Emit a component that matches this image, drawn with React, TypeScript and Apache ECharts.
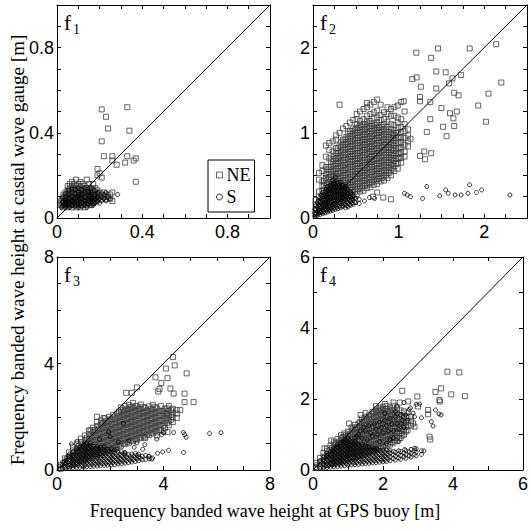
import React, { useEffect, useRef } from "react";
import * as echarts from "echarts";

// ---------- data ----------
const axisMax = [1, 2.5, 8, 6];
const tickSteps = [0.1, 0.25, 1, 1];
const tickLabels = [
  [0, 0.4, 0.8],
  [0, 1, 2],
  [0, 4, 8],
  [0, 2, 4, 6],
];
const panelIds = ["1", "2", "3", "4"];
const xTitle = "Frequency banded wave height at GPS buoy [m]";
const yTitle = "Frequency banded wave height at castal wave gauge [m]";

type Cols = [number, number[]][];

// Panel f1
const ne1: number[][] = [
  [0.02,0.06],[0.02,0.08],[0.03,0.05],[0.03,0.07],[0.03,0.09],[0.03,0.11],[0.04,0.06],[0.04,0.08],[0.04,0.10],[0.04,0.12],
  [0.05,0.05],[0.05,0.07],[0.05,0.09],[0.05,0.11],[0.05,0.13],[0.05,0.15],[0.06,0.06],[0.06,0.08],[0.06,0.10],[0.06,0.12],
  [0.06,0.14],[0.06,0.16],[0.07,0.05],[0.07,0.07],[0.07,0.09],[0.07,0.11],[0.07,0.13],[0.07,0.15],[0.07,0.17],[0.08,0.06],
  [0.08,0.08],[0.08,0.10],[0.08,0.12],[0.08,0.14],[0.08,0.16],[0.09,0.05],[0.09,0.07],[0.09,0.09],[0.09,0.11],[0.09,0.13],
  [0.09,0.15],[0.09,0.18],[0.10,0.06],[0.10,0.08],[0.10,0.10],[0.10,0.12],[0.10,0.14],[0.10,0.16],[0.11,0.05],[0.11,0.07],
  [0.11,0.09],[0.11,0.11],[0.11,0.13],[0.11,0.15],[0.11,0.17],[0.12,0.06],[0.12,0.08],[0.12,0.10],[0.12,0.12],[0.12,0.14],
  [0.12,0.16],[0.13,0.05],[0.13,0.07],[0.13,0.09],[0.13,0.11],[0.13,0.13],[0.13,0.15],[0.14,0.06],[0.14,0.08],[0.14,0.10],
  [0.14,0.12],[0.14,0.14],[0.14,0.18],[0.15,0.07],[0.15,0.09],[0.15,0.11],[0.15,0.13],[0.15,0.16],[0.16,0.06],[0.16,0.08],
  [0.16,0.10],[0.16,0.12],[0.16,0.14],[0.17,0.07],[0.17,0.09],[0.17,0.11],[0.17,0.13],[0.17,0.16],[0.18,0.08],[0.18,0.10],
  [0.18,0.12],[0.18,0.14],[0.19,0.09],[0.19,0.11],[0.19,0.13],[0.20,0.10],[0.20,0.12],[0.21,0.09],[0.21,0.11],[0.22,0.10],
  [0.22,0.12],[0.23,0.09],[0.23,0.11],[0.24,0.10],[0.25,0.09],[0.25,0.11],[0.26,0.08],[0.26,0.12],
  [0.025,0.07],[0.035,0.1],[0.045,0.065],[0.055,0.085],[0.065,0.11],[0.075,0.075],[0.085,0.095],[0.095,0.065],
  [0.105,0.115],[0.115,0.085],[0.125,0.07],[0.135,0.1],[0.145,0.09],[0.155,0.12],[0.165,0.1],[0.175,0.085],
  [0.025,0.09],[0.035,0.06],[0.045,0.11],[0.055,0.125],[0.065,0.07],[0.075,0.14],[0.085,0.13],[0.095,0.12],
  [0.105,0.135],[0.115,0.12],[0.125,0.13],[0.135,0.14],[0.145,0.125],[0.155,0.08],[0.165,0.13],[0.175,0.115],
  [0.19,0.23],[0.20,0.21],[0.19,0.20],[0.21,0.19],[0.21,0.51],[0.23,0.475],[0.24,0.42],[0.21,0.36],[0.22,0.29],
  [0.26,0.29],[0.26,0.27],[0.28,0.25],[0.32,0.26],[0.33,0.29],[0.33,0.52],[0.34,0.41],[0.36,0.27],[0.37,0.28],[0.37,0.17],
];
const s1: number[][] = [
  [0.02,0.05],[0.03,0.06],[0.04,0.05],[0.05,0.06],[0.06,0.05],[0.07,0.06],[0.08,0.07],[0.09,0.06],[0.10,0.07],[0.11,0.06],
  [0.12,0.07],[0.13,0.06],[0.14,0.07],[0.15,0.08],[0.16,0.07],[0.17,0.06],[0.18,0.07],[0.19,0.08],[0.20,0.07],[0.21,0.08],
  [0.22,0.09],[0.23,0.08],[0.24,0.10],[0.25,0.09],[0.285,0.11],[0.05,0.08],[0.08,0.09],[0.12,0.09],[0.15,0.10],[0.18,0.09],
  [0.21,0.10],[0.23,0.12],[0.10,0.05],[0.14,0.05],[0.04,0.09],[0.07,0.1],[0.1,0.11],[0.13,0.1],[0.16,0.11],[0.19,0.1],
  [0.03,0.08],[0.045,0.07],[0.06,0.09],[0.075,0.08],[0.09,0.1],[0.105,0.09],[0.12,0.11],[0.135,0.08],[0.15,0.12],
  [0.165,0.09],[0.18,0.11],[0.195,0.12],[0.2,0.09],[0.22,0.11],[0.17,0.08],[0.11,0.08],[0.06,0.07],[0.04,0.07],
];
const s1Core: Cols = [
  [0.025,[0.055,0.075,0.095]],
  [0.04,[0.06,0.08,0.1,0.115]],
  [0.055,[0.055,0.075,0.095,0.115,0.13]],
  [0.07,[0.06,0.08,0.1,0.12,0.135]],
  [0.085,[0.055,0.075,0.095,0.115,0.135]],
  [0.1,[0.06,0.08,0.1,0.12,0.14]],
  [0.115,[0.055,0.075,0.095,0.115,0.135]],
  [0.13,[0.06,0.08,0.1,0.12,0.14]],
  [0.145,[0.065,0.085,0.105,0.125]],
  [0.16,[0.06,0.08,0.1,0.12,0.14]],
  [0.175,[0.07,0.09,0.11,0.13]],
  [0.19,[0.075,0.095,0.115]],
];

// Panel f2
const ne2Cols: Cols = [
  [0.03,[0.04,0.1,0.16,0.21]],
  [0.07,[0.07,0.13,0.19,0.25,0.31,0.45,0.53]],
  [0.11,[0.08,0.14,0.2,0.26,0.32,0.38,0.43,0.55,0.62]],
  [0.15,[0.11,0.17,0.23,0.29,0.35,0.41,0.47,0.52,0.6,0.72,0.85]],
  [0.19,[0.12,0.18,0.24,0.3,0.36,0.42,0.48,0.54,0.6,0.7,0.8,0.88]],
  [0.23,[0.15,0.21,0.27,0.33,0.39,0.45,0.51,0.57,0.63,0.69,0.78,0.9]],
  [0.27,[0.16,0.22,0.28,0.34,0.4,0.46,0.52,0.58,0.64,0.7,0.76,0.82,0.92,0.97]],
  [0.31,[0.19,0.25,0.31,0.37,0.43,0.49,0.55,0.61,0.67,0.73,0.79,0.85,1.0,1.33]],
  [0.35,[0.2,0.26,0.32,0.38,0.44,0.5,0.56,0.62,0.68,0.74,0.8,0.86,0.92,1.05]],
  [0.39,[0.23,0.29,0.35,0.41,0.47,0.53,0.59,0.65,0.71,0.77,0.83,0.89,0.95,1.08]],
  [0.43,[0.24,0.3,0.36,0.42,0.48,0.54,0.6,0.66,0.72,0.78,0.84,0.9,0.96,1.02,1.12]],
  [0.47,[0.27,0.33,0.39,0.45,0.51,0.57,0.63,0.69,0.75,0.81,0.87,0.93,0.99,1.05,1.15]],
  [0.51,[0.28,0.34,0.4,0.46,0.52,0.58,0.64,0.7,0.76,0.82,0.88,0.94,1.0,1.06,1.1,1.16,1.22]],
  [0.55,[0.31,0.37,0.43,0.49,0.55,0.61,0.67,0.73,0.79,0.85,0.91,0.97,1.03,1.09,1.14,1.25]],
  [0.59,[0.32,0.38,0.44,0.5,0.56,0.62,0.68,0.74,0.8,0.86,0.92,0.98,1.04,1.1,1.16,1.28]],
  [0.63,[0.35,0.41,0.47,0.53,0.59,0.65,0.71,0.77,0.83,0.89,0.95,1.01,1.07,1.13,1.2,1.3,1.35]],
  [0.67,[0.36,0.42,0.48,0.54,0.6,0.66,0.72,0.78,0.84,0.9,0.96,1.02,1.08,1.14,1.22,1.33]],
  [0.71,[0.39,0.45,0.51,0.57,0.63,0.69,0.75,0.81,0.87,0.93,0.99,1.05,1.11,1.17,1.24,1.36]],
  [0.75,[0.4,0.46,0.52,0.58,0.64,0.7,0.76,0.82,0.88,0.94,1.0,1.06,1.12,1.18,1.26,1.39]],
  [0.79,[0.43,0.49,0.55,0.61,0.67,0.73,0.79,0.85,0.91,0.97,1.03,1.09,1.15,1.21,1.33]],
  [0.83,[0.44,0.5,0.56,0.62,0.68,0.74,0.8,0.86,0.92,0.98,1.04,1.1,1.16,1.24]],
  [0.87,[0.47,0.53,0.59,0.65,0.71,0.77,0.83,0.89,0.95,1.01,1.07,1.13,1.22,1.3]],
  [0.91,[0.5,0.56,0.62,0.68,0.74,0.8,0.86,0.92,0.98,1.04,1.1,1.2,1.28]],
  [0.95,[0.55,0.61,0.67,0.73,0.79,0.85,0.91,0.97,1.03,1.09,1.2,1.3]],
  [0.99,[0.58,0.64,0.7,0.76,0.82,0.88,0.94,1.0,1.06,1.12,1.18,1.32]],
  [1.03,[0.65,0.71,0.77,0.83,0.89,0.95,1.01,1.07,1.16,1.36]],
  [1.07,[0.72,0.78,0.86,0.94,1.02,1.1,1.25]],
  [1.11,[0.84,0.9,0.97,1.04]],
];
const ne2Core: Cols = [
  [0.13,[0.14,0.2,0.26,0.32,0.38,0.44]],
  [0.17,[0.15,0.21,0.27,0.33,0.39,0.45,0.51,0.57]],
  [0.21,[0.18,0.24,0.3,0.36,0.42,0.48,0.54,0.6,0.66]],
  [0.25,[0.19,0.25,0.31,0.37,0.43,0.49,0.55,0.61,0.67,0.73]],
  [0.29,[0.22,0.28,0.34,0.4,0.46,0.52,0.58,0.64,0.7,0.76,0.82]],
  [0.33,[0.23,0.29,0.35,0.41,0.47,0.53,0.59,0.65,0.71,0.77,0.83,0.89]],
  [0.37,[0.26,0.32,0.38,0.44,0.5,0.56,0.62,0.68,0.74,0.8,0.86,0.92]],
  [0.41,[0.27,0.33,0.39,0.45,0.51,0.57,0.63,0.69,0.75,0.81,0.87,0.93,0.99]],
  [0.45,[0.3,0.36,0.42,0.48,0.54,0.6,0.66,0.72,0.78,0.84,0.9,0.96,1.02]],
  [0.49,[0.31,0.37,0.43,0.49,0.55,0.61,0.67,0.73,0.79,0.85,0.91,0.97,1.03]],
  [0.53,[0.34,0.4,0.46,0.52,0.58,0.64,0.7,0.76,0.82,0.88,0.94,1.0,1.06]],
  [0.57,[0.35,0.41,0.47,0.53,0.59,0.65,0.71,0.77,0.83,0.89,0.95,1.01,1.07]],
  [0.61,[0.38,0.44,0.5,0.56,0.62,0.68,0.74,0.8,0.86,0.92,0.98,1.04,1.1]],
  [0.65,[0.39,0.45,0.51,0.57,0.63,0.69,0.75,0.81,0.87,0.93,0.99,1.05,1.11]],
  [0.69,[0.42,0.48,0.54,0.6,0.66,0.72,0.78,0.84,0.9,0.96,1.02,1.08]],
  [0.73,[0.43,0.49,0.55,0.61,0.67,0.73,0.79,0.85,0.91,0.97,1.03,1.09]],
  [0.77,[0.46,0.52,0.58,0.64,0.7,0.76,0.82,0.88,0.94,1.0,1.06]],
  [0.81,[0.47,0.53,0.59,0.65,0.71,0.77,0.83,0.89,0.95,1.01,1.07]],
  [0.85,[0.5,0.56,0.62,0.68,0.74,0.8,0.86,0.92,0.98,1.04]],
  [0.89,[0.53,0.59,0.65,0.71,0.77,0.83,0.89,0.95,1.01]],
  [0.93,[0.58,0.64,0.7,0.76,0.82,0.88,0.94,1.0]],
  [0.97,[0.64,0.7,0.76,0.82,0.88,0.94,1.0]],
  [1.01,[0.7,0.76,0.82,0.88,0.94]],
];
const ne2Out: number[][] = [
  [1.207,1.94],[1.46,1.99],[1.38,1.88],[1.44,1.72],[1.55,1.71],[1.21,1.65],[1.16,1.63],[1.26,1.54],[1.44,1.52],
  [1.59,1.58],[1.63,1.64],[1.73,1.68],[1.65,1.47],[1.7,1.44],[1.83,1.99],[2.14,2.04],[2.2,1.59],[2.05,1.46],
  [1.93,1.32],[2.02,1.13],[1.25,1.42],[1.25,1.37],[1.37,1.36],[1.5,1.29],[1.37,1.16],[1.52,1.07],[1.56,0.96],
  [1.65,1.08],[1.6,1.23],[1.68,1.25],[1.64,1.17],[1.33,1.01],[1.3,0.78],[1.38,0.76],[1.31,0.69],[1.25,0.73],
  [1.14,0.93],[1.06,1.37],[0.82,0.24],[0.91,0.22],[0.7,0.25],[0.75,0.3],
];
const s2Cols: Cols = [
  [0.02,[0.02,0.06,0.1]],
  [0.05,[0.03,0.08,0.13,0.18]],
  [0.08,[0.04,0.09,0.14,0.19,0.24]],
  [0.11,[0.05,0.1,0.15,0.2,0.25,0.3]],
  [0.14,[0.06,0.11,0.16,0.21,0.26,0.31]],
  [0.17,[0.07,0.12,0.17,0.22,0.27,0.32,0.37]],
  [0.20,[0.08,0.13,0.18,0.23,0.28,0.33,0.38]],
  [0.23,[0.09,0.14,0.19,0.24,0.29,0.34,0.39,0.44]],
  [0.26,[0.1,0.15,0.2,0.25,0.3,0.35,0.4,0.48]],
  [0.29,[0.11,0.16,0.21,0.26,0.31,0.36,0.41]],
  [0.32,[0.12,0.17,0.22,0.27,0.32,0.37,0.42]],
  [0.35,[0.13,0.18,0.23,0.28,0.33,0.38]],
  [0.38,[0.12,0.17,0.22,0.27,0.32,0.37]],
  [0.41,[0.13,0.18,0.23,0.28,0.33]],
  [0.44,[0.15,0.2,0.25,0.3]],
  [0.47,[0.16,0.21,0.26]],
  [0.50,[0.18,0.23]],
  [0.54,[0.17,0.22]],
];
const s2Core: Cols = [
  [0.035,[0.045,0.095,0.145]],
  [0.065,[0.055,0.105,0.155,0.205]],
  [0.095,[0.065,0.115,0.165,0.215,0.265]],
  [0.125,[0.075,0.125,0.175,0.225,0.275]],
  [0.155,[0.085,0.135,0.185,0.235,0.285,0.335]],
  [0.185,[0.095,0.145,0.195,0.245,0.295,0.345]],
  [0.215,[0.105,0.155,0.205,0.255,0.305,0.355,0.405]],
  [0.245,[0.115,0.165,0.215,0.265,0.315,0.365,0.415]],
  [0.275,[0.125,0.175,0.225,0.275,0.325,0.375,0.425]],
  [0.305,[0.135,0.185,0.235,0.285,0.335,0.385]],
  [0.335,[0.145,0.195,0.245,0.295,0.345,0.395]],
  [0.365,[0.155,0.205,0.255,0.305,0.355]],
  [0.395,[0.145,0.195,0.245,0.295,0.345]],
  [0.425,[0.155,0.205,0.255,0.305]],
  [0.455,[0.175,0.225,0.275]],
  [0.485,[0.185,0.235]],
];
const s2Out: number[][] = [
  [0.6,0.2],[0.66,0.24],[0.72,0.23],[1.067,0.29],[1.1,0.27],[1.14,0.25],[1.28,0.23],[1.33,0.37],[1.48,0.26],
  [1.55,0.33],[1.58,0.29],[1.66,0.27],[1.73,0.27],[1.81,0.29],[1.83,0.39],[1.91,0.3],[1.97,0.33],[2.3,0.27],
];

// Panel f3
const ne3Cols: Cols = [
  [0.15,[0.05,0.2]],
  [0.3,[0.1,0.28,0.44]],
  [0.45,[0.15,0.33,0.51,0.66]],
  [0.6,[0.2,0.38,0.56,0.74,0.88]],
  [0.75,[0.27,0.45,0.63,0.81,0.99]],
  [0.9,[0.33,0.51,0.69,0.87,1.05,1.18]],
  [1.05,[0.4,0.58,0.76,0.94,1.12,1.3]],
  [1.2,[0.45,0.63,0.81,0.99,1.17,1.35,1.48]],
  [1.35,[0.51,0.69,0.87,1.05,1.23,1.41,1.59]],
  [1.5,[0.57,0.75,0.93,1.11,1.29,1.47,1.65,1.8]],
  [1.65,[0.63,0.81,0.99,1.17,1.35,1.53,1.71,1.86]],
  [1.8,[0.68,0.86,1.04,1.22,1.4,1.58,1.76,1.94]],
  [1.95,[0.74,0.92,1.1,1.28,1.46,1.64,1.82,2.0]],
  [2.1,[0.8,0.98,1.16,1.34,1.52,1.7,1.88,2.06]],
  [2.25,[0.86,1.04,1.22,1.4,1.58,1.76,1.94,2.12]],
  [2.4,[0.91,1.09,1.27,1.45,1.63,1.81,1.99,2.17,2.35]],
  [2.55,[0.97,1.15,1.33,1.51,1.69,1.87,2.05,2.23,2.4]],
  [2.7,[1.02,1.2,1.38,1.56,1.74,1.92,2.1,2.28,2.45]],
  [2.85,[1.08,1.26,1.44,1.62,1.8,1.98,2.16,2.34,2.52]],
  [3.0,[1.14,1.32,1.5,1.68,1.86,2.04,2.22,2.4]],
  [3.15,[1.2,1.38,1.56,1.74,1.92,2.1,2.28,2.46]],
  [3.3,[1.25,1.43,1.61,1.79,1.97,2.15,2.33]],
  [3.45,[1.31,1.49,1.67,1.85,2.03,2.21,2.39]],
  [3.6,[1.37,1.55,1.73,1.91,2.09,2.27,2.45]],
  [3.75,[1.42,1.6,1.78,1.96,2.14,2.32]],
  [3.9,[1.5,1.68,1.86,2.04,2.22,2.4]],
  [4.05,[1.58,1.76,1.94,2.12,2.3]],
  [4.2,[1.68,1.86,2.04,2.22,2.4]],
  [4.35,[1.8,1.98,2.16,2.3]],
  [4.5,[1.95,2.12,2.25]],
];
const ne3Core: Cols = [
  [0.68,[0.29,0.47,0.65]],
  [0.83,[0.36,0.54,0.72,0.9]],
  [0.98,[0.42,0.6,0.78,0.96]],
  [1.13,[0.49,0.67,0.85,1.03,1.21]],
  [1.28,[0.54,0.72,0.9,1.08,1.26]],
  [1.43,[0.6,0.78,0.96,1.14,1.32,1.5]],
  [1.58,[0.66,0.84,1.02,1.2,1.38,1.56]],
  [1.73,[0.72,0.9,1.08,1.26,1.44,1.62,1.78]],
  [1.88,[0.77,0.95,1.13,1.31,1.49,1.67,1.85]],
  [2.03,[0.83,1.01,1.19,1.37,1.55,1.73,1.91]],
  [2.18,[0.89,1.07,1.25,1.43,1.61,1.79,1.97]],
  [2.33,[0.95,1.13,1.31,1.49,1.67,1.85,2.03,2.2]],
  [2.48,[1.0,1.18,1.36,1.54,1.72,1.9,2.08,2.26]],
  [2.63,[1.06,1.24,1.42,1.6,1.78,1.96,2.14,2.3]],
  [2.78,[1.11,1.29,1.47,1.65,1.83,2.01,2.19,2.37]],
  [2.93,[1.17,1.35,1.53,1.71,1.89,2.07,2.25,2.4]],
  [3.08,[1.23,1.41,1.59,1.77,1.95,2.13,2.31]],
  [3.23,[1.29,1.47,1.65,1.83,2.01,2.19,2.37]],
  [3.38,[1.34,1.52,1.7,1.88,2.06,2.24]],
  [3.53,[1.4,1.58,1.76,1.94,2.12,2.3]],
  [3.68,[1.46,1.64,1.82,2.0,2.18,2.36]],
  [3.83,[1.51,1.69,1.87,2.05,2.23]],
  [3.98,[1.67,1.85,2.03,2.21]],
  [4.13,[1.77,1.95,2.13,2.31]],
  [4.28,[1.89,2.07,2.25]],
];
const ne3Out: number[][] = [
  [4.36,4.24],[4.42,3.93],[4.09,3.81],[4.87,3.63],[3.7,3.48],[3.92,3.27],[4.15,3.45],[4.26,3.06],[3.85,3.04],
  [4.38,2.87],[4.79,2.87],[4.79,2.55],[5.13,2.55],[4.63,2.25],[3.0,3.1],[2.81,2.9],[2.6,2.9],[1.5,2.0],[1.75,1.95],
  [1.26,1.5],[3.31,1.2],[4.0,1.45],[4.15,1.42],[3.75,1.3],[4.13,2.1],[3.8,2.95],
];
const s3Cols: Cols = [
  [0.08,[0.03,0.15]],
  [0.21,[0.05,0.2,0.3]],
  [0.34,[0.06,0.21,0.36,0.45]],
  [0.47,[0.07,0.22,0.37,0.52,0.6]],
  [0.6,[0.08,0.23,0.38,0.53,0.68]],
  [0.73,[0.09,0.24,0.39,0.54,0.69,0.8]],
  [0.86,[0.1,0.25,0.4,0.55,0.7,0.85]],
  [0.99,[0.11,0.26,0.41,0.56,0.71,0.86,0.95]],
  [1.12,[0.12,0.27,0.42,0.57,0.72,0.87,0.98]],
  [1.25,[0.13,0.28,0.43,0.58,0.73,0.88]],
  [1.38,[0.14,0.29,0.44,0.59,0.74,0.89]],
  [1.51,[0.15,0.3,0.45,0.6,0.75,0.88]],
  [1.64,[0.16,0.31,0.46,0.61,0.76,0.86]],
  [1.77,[0.17,0.32,0.47,0.62,0.77,0.86]],
  [1.9,[0.18,0.33,0.48,0.63,0.78]],
  [2.03,[0.19,0.34,0.49,0.64,0.79]],
  [2.16,[0.2,0.35,0.5,0.65,0.76]],
  [2.29,[0.22,0.37,0.52,0.67]],
  [2.42,[0.24,0.39,0.54,0.69]],
  [2.55,[0.26,0.41,0.56,0.66]],
  [2.68,[0.28,0.43,0.58]],
  [2.81,[0.3,0.45,0.6]],
  [2.94,[0.32,0.47,0.62]],
  [3.07,[0.35,0.5,0.6]],
  [3.2,[0.38,0.52]],
  [3.33,[0.4,0.55]],
  [3.46,[0.42,0.52]],
  [3.59,[0.45]],
];
const s3Core: Cols = [
  [0.275,[0.125,0.275]],
  [0.405,[0.135,0.285,0.435]],
  [0.535,[0.145,0.295,0.445,0.56]],
  [0.665,[0.155,0.305,0.455,0.605]],
  [0.795,[0.165,0.315,0.465,0.615,0.765]],
  [0.925,[0.175,0.325,0.475,0.625,0.775]],
  [1.055,[0.185,0.335,0.485,0.635,0.785,0.9]],
  [1.185,[0.195,0.345,0.495,0.645,0.795,0.92]],
  [1.315,[0.205,0.355,0.505,0.655,0.805]],
  [1.445,[0.215,0.365,0.515,0.665,0.815]],
  [1.575,[0.225,0.375,0.525,0.675,0.8]],
  [1.705,[0.235,0.385,0.535,0.685]],
  [1.835,[0.245,0.395,0.545,0.695]],
  [1.965,[0.255,0.405,0.555,0.705]],
  [2.095,[0.265,0.415,0.565,0.7]],
  [2.225,[0.28,0.43,0.58]],
  [2.355,[0.3,0.45,0.6]],
  [2.485,[0.32,0.47,0.62]],
  [2.615,[0.34,0.49]],
  [2.745,[0.36,0.51]],
  [2.875,[0.38,0.53]],
  [3.005,[0.41,0.55]],
  [3.135,[0.44]],
];
const s3Out: number[][] = [
  [5.73,1.37],[6.16,1.4],[4.38,1.41],[4.75,1.41],[4.79,1.33],[4.85,1.23],[4.0,1.4],[3.75,1.16],[3.93,1.33],
  [4.75,0.66],[4.19,0.74],[3.97,0.68],[3.78,0.63],[3.22,0.78],[3.44,0.51],[3.56,0.41],[2.56,0.61],[2.25,0.78],
  [2.5,1.75],[1.94,1.43],[2.0,1.25],[3.0,1.02],[0.75,1.08],[0.54,0.98],[1.25,1.02],[2.3,1.05],[2.7,1.1],[1.6,1.15],
  [2.9,0.85],[3.3,0.95],
];

// Panel f4
const ne4Cols: Cols = [
  [0.1,[0.08,0.2]],
  [0.2,[0.1,0.23,0.34]],
  [0.3,[0.12,0.25,0.38,0.48]],
  [0.4,[0.14,0.27,0.4,0.53,0.6]],
  [0.5,[0.17,0.3,0.43,0.56,0.69]],
  [0.6,[0.19,0.32,0.45,0.58,0.71,0.8]],
  [0.7,[0.22,0.35,0.48,0.61,0.74,0.87]],
  [0.8,[0.24,0.37,0.5,0.63,0.76,0.89,0.98]],
  [0.9,[0.27,0.4,0.53,0.66,0.79,0.92,1.03]],
  [1.0,[0.3,0.43,0.56,0.69,0.82,0.95,1.08]],
  [1.1,[0.33,0.46,0.59,0.72,0.85,0.98,1.11,1.2]],
  [1.2,[0.36,0.49,0.62,0.75,0.88,1.01,1.14,1.27]],
  [1.3,[0.4,0.53,0.66,0.79,0.92,1.05,1.18,1.31]],
  [1.4,[0.43,0.56,0.69,0.82,0.95,1.08,1.21,1.34,1.45]],
  [1.5,[0.46,0.59,0.72,0.85,0.98,1.11,1.24,1.37,1.5]],
  [1.6,[0.5,0.63,0.76,0.89,1.02,1.15,1.28,1.41,1.54]],
  [1.7,[0.53,0.66,0.79,0.92,1.05,1.18,1.31,1.44,1.57,1.64]],
  [1.8,[0.57,0.7,0.83,0.96,1.09,1.22,1.35,1.48,1.61,1.7]],
  [1.9,[0.6,0.73,0.86,0.99,1.12,1.25,1.38,1.51,1.64,1.74]],
  [2.0,[0.64,0.77,0.9,1.03,1.16,1.29,1.42,1.55,1.68,1.77]],
  [2.1,[0.68,0.81,0.94,1.07,1.2,1.33,1.46,1.59,1.72,1.8]],
  [2.2,[0.72,0.85,0.98,1.11,1.24,1.37,1.5,1.63,1.76]],
  [2.3,[0.77,0.9,1.03,1.16,1.29,1.42,1.55,1.68,1.81]],
  [2.4,[0.82,0.95,1.08,1.21,1.34,1.47,1.6,1.73]],
  [2.5,[0.9,1.03,1.16,1.29,1.42,1.55,1.68]],
  [2.6,[1.0,1.13,1.26,1.39,1.52,1.65]],
  [2.7,[1.12,1.25,1.38,1.51,1.62]],
  [2.8,[1.25,1.38,1.5]],
];
const ne4Core: Cols = [
  [0.55,[0.24,0.37,0.5,0.62]],
  [0.65,[0.26,0.39,0.52,0.65,0.76]],
  [0.75,[0.29,0.42,0.55,0.68,0.8]],
  [0.85,[0.31,0.44,0.57,0.7,0.83,0.93]],
  [0.95,[0.34,0.47,0.6,0.73,0.86,0.98]],
  [1.05,[0.37,0.5,0.63,0.76,0.89,1.02]],
  [1.15,[0.4,0.53,0.66,0.79,0.92,1.05,1.16]],
  [1.25,[0.43,0.56,0.69,0.82,0.95,1.08,1.21]],
  [1.35,[0.47,0.6,0.73,0.86,0.99,1.12,1.25,1.36]],
  [1.45,[0.5,0.63,0.76,0.89,1.02,1.15,1.28,1.4]],
  [1.55,[0.53,0.66,0.79,0.92,1.05,1.18,1.31,1.44]],
  [1.65,[0.57,0.7,0.83,0.96,1.09,1.22,1.35,1.48]],
  [1.75,[0.6,0.73,0.86,0.99,1.12,1.25,1.38,1.51,1.62]],
  [1.85,[0.64,0.77,0.9,1.03,1.16,1.29,1.42,1.55,1.66]],
  [1.95,[0.67,0.8,0.93,1.06,1.19,1.32,1.45,1.58,1.7]],
  [2.05,[0.71,0.84,0.97,1.1,1.23,1.36,1.49,1.62,1.72]],
  [2.15,[0.75,0.88,1.01,1.14,1.27,1.4,1.53,1.66]],
  [2.25,[0.79,0.92,1.05,1.18,1.31,1.44,1.57,1.7]],
  [2.35,[0.84,0.97,1.1,1.23,1.36,1.49,1.62]],
  [2.45,[0.9,1.03,1.16,1.29,1.42,1.55]],
  [2.55,[0.97,1.1,1.23,1.36,1.49]],
  [2.65,[1.08,1.21,1.34,1.47]],
];
const ne4Out: number[][] = [
  [3.84,2.77],[4.18,2.75],[4.34,2.08],[3.95,2.13],[3.5,2.2],[3.66,2.3],[3.61,1.97],[3.63,1.93],[3.29,1.69],
  [3.29,1.57],[3.33,0.94],[3.35,0.86],[2.55,2.23],[2.98,2.07],[3.0,1.79],[2.86,1.31],[2.9,1.22],[2.72,1.93],
  [2.48,1.9],[2.06,1.86],[1.36,1.55],[1.5,1.6],[1.03,1.31],[0.52,0.83],[0.33,0.61],[2.3,1.9],[1.8,1.8],
];
const s4Cols: Cols = [
  [0.1,[0.04,0.15]],
  [0.2,[0.05,0.16,0.26]],
  [0.3,[0.06,0.17,0.28,0.36]],
  [0.4,[0.07,0.18,0.29,0.4,0.46]],
  [0.5,[0.08,0.19,0.3,0.41,0.52]],
  [0.6,[0.09,0.2,0.31,0.42,0.53,0.62]],
  [0.7,[0.1,0.21,0.32,0.43,0.54,0.65,0.72]],
  [0.8,[0.11,0.22,0.33,0.44,0.55,0.66,0.77]],
  [0.9,[0.12,0.23,0.34,0.45,0.56,0.67,0.78,0.86]],
  [1.0,[0.13,0.24,0.35,0.46,0.57,0.68,0.79,0.9]],
  [1.1,[0.14,0.25,0.36,0.47,0.58,0.69,0.8]],
  [1.2,[0.15,0.26,0.37,0.48,0.59,0.7,0.8]],
  [1.3,[0.16,0.27,0.38,0.49,0.6,0.71]],
  [1.4,[0.17,0.28,0.39,0.5,0.61,0.72]],
  [1.5,[0.18,0.29,0.4,0.51,0.62,0.7]],
  [1.6,[0.19,0.3,0.41,0.52,0.63]],
  [1.7,[0.2,0.31,0.42,0.53,0.64]],
  [1.8,[0.21,0.32,0.43,0.54,0.62]],
  [1.9,[0.22,0.33,0.44,0.55]],
  [2.0,[0.23,0.34,0.45,0.56]],
  [2.1,[0.24,0.35,0.46,0.57]],
  [2.2,[0.26,0.37,0.48,0.56]],
  [2.35,[0.28,0.39,0.5]],
  [2.5,[0.3,0.41,0.52]],
  [2.65,[0.33,0.44,0.55]],
  [2.8,[0.36,0.47,0.58]],
  [2.95,[0.4,0.5,0.6]],
  [3.1,[0.44,0.54]],
];
const s4Core: Cols = [
  [0.35,[0.115,0.225,0.335]],
  [0.45,[0.125,0.235,0.345,0.44]],
  [0.55,[0.135,0.245,0.355,0.465,0.54]],
  [0.65,[0.145,0.255,0.365,0.475,0.585]],
  [0.75,[0.155,0.265,0.375,0.485,0.595,0.68]],
  [0.85,[0.165,0.275,0.385,0.495,0.605,0.715]],
  [0.95,[0.175,0.285,0.395,0.505,0.615,0.725,0.82]],
  [1.05,[0.185,0.295,0.405,0.515,0.625,0.735,0.84]],
  [1.15,[0.195,0.305,0.415,0.525,0.635,0.745]],
  [1.25,[0.205,0.315,0.425,0.535,0.645,0.75]],
  [1.35,[0.215,0.325,0.435,0.545,0.655]],
  [1.45,[0.225,0.335,0.445,0.555,0.665]],
  [1.55,[0.235,0.345,0.455,0.565,0.66]],
  [1.65,[0.245,0.355,0.465,0.575]],
  [1.75,[0.255,0.365,0.475,0.585]],
  [1.85,[0.265,0.375,0.485,0.58]],
  [1.95,[0.275,0.385,0.495]],
  [2.05,[0.285,0.395,0.505]],
  [2.15,[0.3,0.41,0.52]],
  [2.3,[0.32,0.43,0.52]],
  [2.45,[0.34,0.45,0.54]],
  [2.6,[0.37,0.48]],
  [2.75,[0.4,0.51]],
  [2.9,[0.44,0.55]],
];
const s4Out: number[][] = [
  [1.3,1.0],[1.4,0.9],[1.5,1.1],[1.6,1.25],[1.7,0.95],[1.8,1.15],[1.9,1.35],[2.0,1.05],[2.1,1.25],[2.2,1.45],
  [2.3,1.1],[2.4,1.3],[2.5,1.55],[2.6,1.2],[2.7,1.4],[2.2,0.85],[2.45,0.8],[1.55,0.85],[1.2,0.9],[2.35,1.65],
  [2.05,1.6],[2.4,1.8],[2.6,1.9],[2.75,1.7],[1.25,0.95],[1.35,1.1],[1.45,1.2],[1.65,1.05],[1.75,1.3],[1.85,1.0],
  [1.95,1.2],[2.05,1.4],[2.15,1.1],[2.25,1.3],[2.35,1.5],[2.45,1.15],[2.55,1.4],[2.65,1.55],[1.9,0.8],[2.1,0.75],
  [2.3,0.9],
  [3.05,1.86],[2.9,1.5],[3.1,1.47],[3.5,1.69],[3.6,1.58],[3.66,1.55],[3.38,1.36],[3.43,1.24],[2.86,1.6],
  [2.53,1.31],[3.17,0.54],[2.9,0.61],[2.62,0.58],[2.95,1.85],[2.78,1.75],
];

const expand = (cols: Cols) => cols.flatMap(([x, ys]) => ys.map((y) => [x, y]));

const neData = [
  ne1,
  [...expand(ne2Cols), ...expand(ne2Core), ...ne2Out],
  [...expand(ne3Cols), ...expand(ne3Core), ...ne3Out],
  [...expand(ne4Cols), ...expand(ne4Core), ...ne4Out],
];
const sData = [
  [...s1, ...expand(s1Core)],
  [...expand(s2Cols), ...expand(s2Core), ...s2Out],
  [...expand(s3Cols), ...expand(s3Core), ...s3Out],
  [...expand(s4Cols), ...expand(s4Core), ...s4Out],
];

// ---------- layout / style ----------
const SANS = '"Liberation Sans", Arial, Helvetica, sans-serif';
const SERIF = '"Liberation Serif", "Times New Roman", Times, serif';
const grids = [
  { left: 57, top: 5, width: 213, height: 213 },
  { left: 313, top: 5, width: 214, height: 213 },
  { left: 57, top: 257, width: 213, height: 213 },
  { left: 313, top: 257, width: 214, height: 213 },
];

export default function App() {
  const ref = useRef<HTMLDivElement>(null);
  useEffect(() => {
    document.body.style.margin = "0";
    if (!ref.current) return;
    const chart = echarts.init(ref.current, undefined, { renderer: "svg" });

    const xAxis: any[] = [];
    const yAxis: any[] = [];
    const series: any[] = [];
    const graphic: any[] = [];

    grids.forEach((g, i) => {
      const max = axisMax[i];
      const step = tickSteps[i];
      const labels = tickLabels[i];
      const fmt = (v: number) =>
        labels.some((t) => Math.abs(t - v) < 1e-6) ? String(Number(v.toFixed(3))) : "";
      const common = {
        type: "value",
        gridIndex: i,
        min: 0,
        max,
        interval: step,
        splitLine: { show: false },
        axisLine: { show: true, onZero: false, lineStyle: { color: "#000", width: 1 } },
        axisTick: { show: true, inside: true, length: 4, lineStyle: { color: "#000", width: 1 } },
      };
      xAxis.push({
        ...common,
        position: "bottom",
        axisLabel: { show: true, formatter: fmt, color: "#000", fontFamily: SANS, fontSize: 18, margin: 5 },
      });
      xAxis.push({ ...common, position: "top", axisLabel: { show: false } });
      yAxis.push({
        ...common,
        position: "left",
        axisLabel: { show: true, formatter: fmt, color: "#000", fontFamily: SANS, fontSize: 18, margin: 3 },
      });
      yAxis.push({ ...common, position: "right", axisLabel: { show: false } });

      series.push({
        type: "scatter",
        name: "NE",
        xAxisIndex: 2 * i,
        yAxisIndex: 2 * i,
        data: neData[i],
        symbol: "rect",
        symbolSize: 5,
        silent: true,
        itemStyle: { color: "rgba(255,255,255,0)", borderColor: "#404040", borderWidth: 1 },
      });
      series.push({
        type: "scatter",
        name: "S",
        xAxisIndex: 2 * i,
        yAxisIndex: 2 * i,
        data: sData[i],
        symbol: "circle",
        symbolSize: 4,
        silent: true,
        itemStyle: { color: "rgba(255,255,255,0)", borderColor: "#000", borderWidth: 1 },
      });
      series.push({
        type: "line",
        name: "diag" + i,
        xAxisIndex: 2 * i,
        yAxisIndex: 2 * i,
        data: [[0, 0], [max, max]],
        symbol: "none",
        silent: true,
        lineStyle: { color: "#000", width: 1 },
        z: 5,
      });

      graphic.push({
        type: "text",
        x: g.left + 7,
        y: g.top + 7,
        style: { text: "f", font: `21px ${SERIF}`, fill: "#000", verticalAlign: "top" },
      });
      graphic.push({
        type: "text",
        x: g.left + 16,
        y: g.top + 17,
        style: { text: panelIds[i], font: `14px ${SERIF}`, fill: "#000", verticalAlign: "top" },
      });
    });

    graphic.push({
      type: "text",
      x: 265,
      y: 511,
      style: { text: xTitle, font: `18px ${SERIF}`, fill: "#000", textAlign: "center", verticalAlign: "middle" },
    });
    graphic.push({
      type: "text",
      x: 17,
      y: 250,
      rotation: Math.PI / 2,
      style: { text: yTitle, font: `19px ${SERIF}`, fill: "#000", textAlign: "center", verticalAlign: "middle" },
    });

    chart.setOption({
      animation: false,
      grid: grids.map((g) => ({ ...g, containLabel: false })),
      xAxis,
      yAxis,
      series,
      graphic,
      legend: {
        data: ["NE", "S"],
        selectedMode: false,
        orient: "vertical",
        left: 208,
        top: 160,
        padding: [6, 4, 6, 8],
        itemGap: 4,
        itemWidth: 6,
        itemHeight: 6,
        borderColor: "#000",
        borderWidth: 1,
        backgroundColor: "#fff",
        itemStyle: { borderWidth: 1 },
        textStyle: { fontFamily: SERIF, fontSize: 18, color: "#000", padding: [0, 0, 0, -1] },
      },
    });
    return () => chart.dispose();
  }, []);
  return <div ref={ref} style={{ width: 531, height: 531 }} />;
}
